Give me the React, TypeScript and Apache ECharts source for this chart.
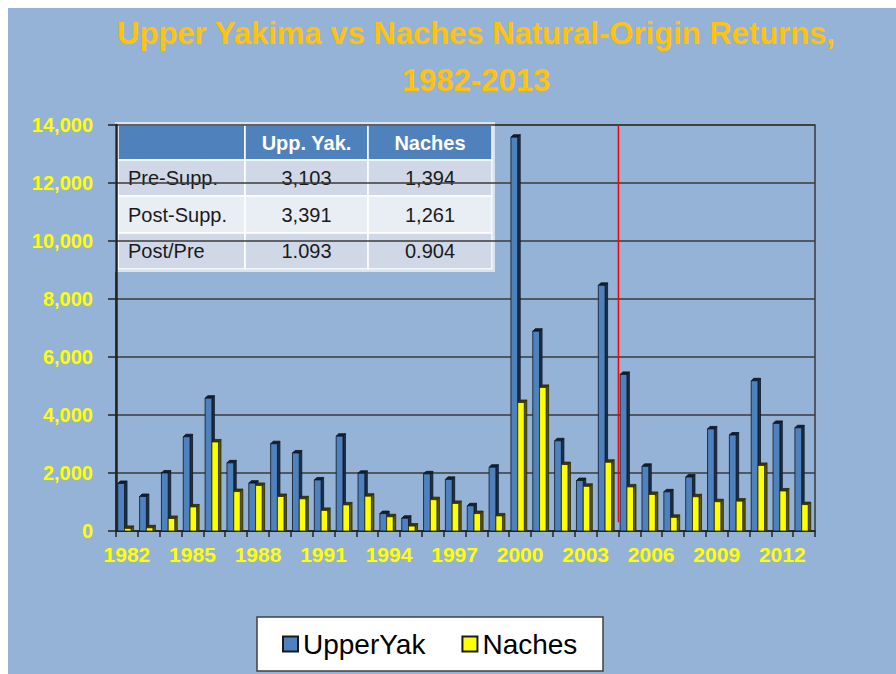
import React, { useEffect, useRef } from 'react';
import * as echarts from 'echarts';

const years = [
  '1982', '1983', '1984', '1985', '1986', '1987', '1988', '1989', '1990', '1991',
  '1992', '1993', '1994', '1995', '1996', '1997', '1998', '1999', '2000', '2001',
  '2002', '2003', '2004', '2005', '2006', '2007', '2008', '2009', '2010', '2011',
  '2012', '2013',
];
const upperYak = [
  1640, 1190, 2000, 3250, 4580, 2350, 1650, 3010, 2690, 1760,
  3270, 1990, 600, 440, 1970, 1780, 870, 2200, 13580, 6890,
  3110, 1740, 8470, 5400, 2230, 1350, 1860, 3520, 3310, 5180,
  3710, 3560,
];
const naches = [
  90, 110, 430, 830, 3070, 1360, 1570, 1190, 1110, 710,
  900, 1200, 490, 170, 1080, 950, 600, 520, 4430, 4950,
  2290, 1540, 2370, 1520, 1260, 470, 1180, 1010, 1030, 2260,
  1380, 910,
];
// red marker between 2004 and 2005 (boundary index on a 0..32 scale)
const markerPosition = 23;
const markerRange = [300, 14000];

const tableHeader = ['', 'Upp. Yak.', 'Naches'];
const tableRowLabels = ['Pre-Supp.', 'Post-Supp.', 'Post/Pre'];
const tableUpperYak = ['3,103', '3,391', '1.093'];
const tableNaches = ['1,394', '1,261', '0.904'];

const seriesNames = ['UpperYak', 'Naches'];

type Colors = { front: string; side: string; top: string; edge: string };

function bar3d(frontL: number, frontR: number, colors: Colors) {
  return (params: any, api: any) => {
    const i = api.value(0);
    const v = api.value(1);
    const top = api.coord([i, v]);
    const base = api.coord([i, 0]);
    const bw = api.size([1, 0])[0];
    const c = top[0];
    const x0 = c + frontL * bw;
    const x1 = c + frontR * bw;
    const d = 0.115 * bw;
    const yT = top[1];
    const yB = base[1];
    return {
      type: 'group',
      children: [
        {
          type: 'polygon',
          shape: { points: [[x1, yB], [x1, yT], [x1 + d, yT - d], [x1 + d, yB]] },
          style: { fill: colors.side, stroke: colors.edge, lineWidth: 0.8 },
        },
        {
          type: 'polygon',
          shape: { points: [[x0, yT], [x1, yT], [x1 + d, yT - d], [x0 + d, yT - d]] },
          style: { fill: colors.top, stroke: colors.edge, lineWidth: 0.8 },
        },
        {
          type: 'rect',
          shape: { x: x0, y: yT, width: x1 - x0, height: yB - yT },
          style: { fill: colors.front, stroke: colors.edge, lineWidth: 0.8 },
        },
      ],
    };
  };
}

function buildTable() {
  const left = 110;
  const cols = [110, 237, 360, 484];
  const rows = [117, 152, 188, 225, 261];
  const children: any[] = [];
  children.push({
    type: 'rect',
    shape: { x: left - 2, y: rows[0] - 2, width: cols[3] - cols[0] + 4, height: rows[4] - rows[0] + 4 },
    style: { fill: 'none', stroke: '#d9e3f0', lineWidth: 2 },
  });
  const rowFills = ['#4F81BD', '#D0D8E8', '#E9EDF4', '#D0D8E8'];
  for (let r = 0; r < 4; r++) {
    for (let c = 0; c < 3; c++) {
      children.push({
        type: 'rect',
        shape: { x: cols[c], y: rows[r], width: cols[c + 1] - cols[c], height: rows[r + 1] - rows[r] },
        style: { fill: rowFills[r], stroke: '#ffffff', lineWidth: 1.5 },
      });
    }
  }
  const font = 'Liberation Sans, Arial, sans-serif';
  const hy = (rows[0] + rows[1]) / 2;
  tableHeader.forEach((h, c) => {
    if (!h) return;
    children.push({
      type: 'text',
      x: (cols[c] + cols[c + 1]) / 2,
      y: hy,
      style: { text: h, fill: '#ffffff', font: `bold 20px ${font}`, align: 'center', verticalAlign: 'middle' },
    });
  });
  for (let r = 0; r < 3; r++) {
    const cy = (rows[r + 1] + rows[r + 2]) / 2;
    children.push({
      type: 'text',
      x: cols[0] + 10,
      y: cy,
      style: { text: tableRowLabels[r], fill: '#1a1a1a', font: `20px ${font}`, align: 'left', verticalAlign: 'middle' },
    });
    children.push({
      type: 'text',
      x: (cols[1] + cols[2]) / 2,
      y: cy,
      style: { text: tableUpperYak[r], fill: '#1a1a1a', font: `20px ${font}`, align: 'center', verticalAlign: 'middle' },
    });
    children.push({
      type: 'text',
      x: (cols[2] + cols[3]) / 2,
      y: cy,
      style: { text: tableNaches[r], fill: '#1a1a1a', font: `20px ${font}`, align: 'center', verticalAlign: 'middle' },
    });
  }
  return { type: 'group', z: 100, children };
}

export default function App() {
  const ref = useRef<HTMLDivElement>(null);
  useEffect(() => {
    if (!ref.current) return;
    document.documentElement.style.overflow = 'hidden';
    const chart = echarts.init(ref.current, null, { renderer: 'svg' });
    const axisFont = 'Liberation Sans, Arial, sans-serif';
    chart.setOption({
      animation: false,
      backgroundColor: '#95B3D7',
      title: {
        text: 'Upper Yakima vs Naches Natural-Origin Returns,\n1982-2013',
        left: 468,
        top: 2,
        textAlign: 'center',
        padding: 0,
        textStyle: {
          color: '#FFC20E',
          fontFamily: 'Liberation Sans Narrow, Liberation Sans, Arial, sans-serif',
          fontWeight: 'bold',
          fontSize: 31,
          lineHeight: 47,
        },
      },
      legend: {
        data: seriesNames,
        left: 274,
        top: 621,
        padding: 0,
        itemWidth: 15,
        itemHeight: 15,
        itemGap: 36,
        icon: 'rect',
        textStyle: { color: '#000000', fontSize: 28, fontFamily: axisFont, lineHeight: 30 },
      },
      grid: {
        left: 108,
        top: 117,
        width: 699,
        height: 406,
        show: true,
        borderColor: '#3a3a3a',
        borderWidth: 1.5,
        backgroundColor: 'transparent',
      },
      xAxis: [
        {
          type: 'category',
          data: years,
          boundaryGap: true,
          axisLine: { lineStyle: { color: '#222222', width: 1.5 } },
          axisTick: { show: true, interval: 0, length: 6, lineStyle: { color: '#222222', width: 1.5 } },
          axisLabel: {
            interval: 2,
            color: '#FFFF00',
            fontSize: 21,
            fontWeight: 'bold',
            fontFamily: axisFont,
            margin: 13,
          },
          splitLine: { show: false },
        },
        { type: 'value', min: 0, max: 32, show: false },
      ],
      yAxis: {
        type: 'value',
        min: 0,
        max: 14000,
        interval: 2000,
        axisLine: { show: true, lineStyle: { color: '#222222', width: 2.5 } },
        axisTick: { show: true, length: 8, lineStyle: { color: '#222222', width: 1.5 } },
        axisLabel: {
          color: '#FFFF00',
          fontSize: 20,
          fontWeight: 'bold',
          fontFamily: axisFont,
          margin: 23,
          formatter: (v: number) => v.toLocaleString('en-US'),
        },
        splitLine: { show: true, lineStyle: { color: '#3a3a3a', width: 1.5 } },
      },
      series: [
        {
          name: seriesNames[0],
          type: 'custom',
          xAxisIndex: 0,
          renderItem: bar3d(-0.42, -0.11, { front: '#4F81BD', side: '#1d3049', top: '#13202f', edge: '#0e1724' }),
          itemStyle: { color: '#4F81BD', borderColor: '#1a1a1a', borderWidth: 1.5 },
          encode: { x: 0, y: 1 },
          data: upperYak.map((v, i) => [i, v]),
          z: 3,
        },
        {
          name: seriesNames[1],
          type: 'custom',
          xAxisIndex: 0,
          renderItem: bar3d(-0.11, 0.19, { front: '#FFFF00', side: '#55550a', top: '#3a3a08', edge: '#2a2a05' }),
          itemStyle: { color: '#FFFF00', borderColor: '#1a1a1a', borderWidth: 1.5 },
          encode: { x: 0, y: 1 },
          data: naches.map((v, i) => [i, v]),
          z: 4,
        },
        {
          name: 'marker',
          type: 'line',
          xAxisIndex: 1,
          symbol: 'none',
          silent: true,
          lineStyle: { color: '#FF0000', width: 1.5 },
          data: markerRange.map((y) => [markerPosition, y]),
          z: 5,
        },
      ],
      graphic: [
        buildTable(),
        {
          type: 'rect',
          z: 1,
          shape: { x: 249, y: 609, width: 346, height: 54 },
          style: { fill: '#ffffff', stroke: '#404040', lineWidth: 1.5 },
        },
      ],
    });
    return () => chart.dispose();
  }, []);
  return (
    <div
      ref={ref}
      style={{ position: 'absolute', left: 8, top: 8, width: 888, height: 666 }}
    />
  );
}
